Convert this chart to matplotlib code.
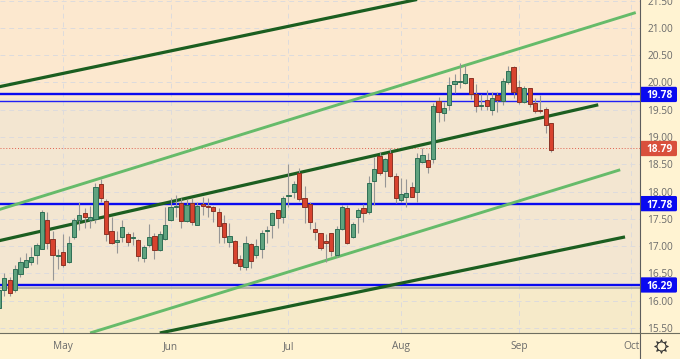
import matplotlib
matplotlib.use('Agg')
import matplotlib.pyplot as plt
from matplotlib.lines import Line2D
from matplotlib.patches import FancyBboxPatch

plt.rcParams['font.family'] = ['Open Sans', 'DejaVu Sans']

# daily candles
opens = [15.87,16.20,16.38,16.20,16.49,16.62,16.71,16.84,16.95,17.48,17.13,16.82,16.89,16.71,17.17,17.48,17.61,17.48,17.50,18.14,
         17.83,17.28,17.08,17.17,17.22,17.15,17.11,16.78,17.02,17.19,16.93,17.13,17.48,17.72,17.79,17.46,17.79,17.39,17.77,17.74,
         17.72,17.63,17.43,17.08,17.10,16.77,16.62,17.04,16.84,16.95,17.28,17.39,17.66,17.54,17.92,17.99,18.34,17.88,17.77,17.32,
         17.24,17.10,17.24,16.84,17.32,17.70,17.17,17.54,17.70,17.63,18.19,18.65,18.38,18.71,18.29,17.85,17.90,18.09,17.99,18.54,
         18.58,18.60,19.66,19.44,19.59,19.97,20.01,19.99,20.08,19.79,19.57,19.68,19.50,19.77,19.66,20.01,20.28,19.92,19.64,19.90,
         19.62,19.50,19.51,19.26]
highs = [16.29,16.51,16.44,16.66,16.80,16.88,16.99,17.06,17.66,17.63,17.28,16.95,17.22,17.19,17.52,17.81,17.70,17.74,18.16,18.23,
         17.87,17.54,17.28,17.48,17.26,17.26,17.13,17.02,17.41,17.24,17.28,17.72,17.88,17.94,17.88,17.87,17.88,17.81,17.90,17.88,
         17.74,17.70,17.57,17.43,17.11,16.84,17.19,17.06,17.13,17.30,17.37,17.63,17.66,17.92,18.51,18.20,18.43,18.10,17.81,17.44,
         17.24,17.22,17.24,17.37,17.76,17.76,17.44,17.70,17.77,18.29,18.63,18.73,18.62,18.80,18.34,18.25,18.23,18.18,18.71,18.80,
         18.71,19.62,19.73,19.64,20.10,20.15,20.36,20.32,20.08,19.97,19.79,19.86,19.82,19.82,20.08,20.30,20.30,20.04,19.93,19.90,
         19.72,19.77,19.55,19.26]
lows = [15.74,16.09,16.09,16.16,16.44,16.60,16.66,16.68,16.95,16.95,16.38,16.58,16.62,16.69,17.13,17.30,17.33,17.33,17.43,17.81,
        17.10,17.04,16.88,17.08,17.00,17.02,16.73,16.71,16.99,16.77,16.91,17.11,17.46,17.54,17.33,17.44,17.39,17.39,17.57,17.54,
        17.44,17.06,17.06,16.99,16.68,16.57,16.57,16.60,16.78,16.78,17.06,17.15,17.33,17.43,17.72,17.88,17.83,17.43,17.32,17.11,
        16.93,16.71,16.82,16.80,17.30,17.04,17.15,17.24,17.44,17.59,17.76,18.30,18.09,18.27,17.79,17.81,17.72,17.90,17.81,18.52,
        18.34,18.52,19.28,19.29,19.50,19.81,19.90,19.97,19.70,19.46,19.50,19.50,19.40,19.46,19.59,19.97,19.72,19.61,19.62,19.55,
        19.44,19.44,19.07,18.73]
closes = [16.20,16.42,16.14,16.58,16.71,16.75,16.80,17.02,17.63,17.06,16.84,16.84,16.66,17.06,17.48,17.57,17.54,17.54,18.09,17.88,
          17.22,17.06,17.11,17.35,17.08,17.17,16.82,16.99,17.17,16.93,17.22,17.39,17.72,17.74,17.46,17.75,17.44,17.74,17.74,17.72,
          17.65,17.37,17.17,17.19,16.69,16.64,17.06,16.73,17.00,17.24,17.30,17.61,17.52,17.88,17.94,18.14,17.87,17.72,17.44,17.26,
          16.97,17.06,16.91,17.32,17.72,17.06,17.41,17.66,17.61,18.16,18.41,18.34,18.60,18.29,17.88,17.96,17.98,17.90,18.62,18.67,
          18.45,19.57,19.46,19.53,19.95,20.03,20.03,20.15,19.79,19.57,19.59,19.57,19.72,19.68,20.03,20.21,19.82,19.64,19.90,19.61,
          19.48,19.48,19.22,18.76]

last_price = 18.79
level_prices = [19.78, 17.78, 16.29]
thin_level = 19.66
grey_level = 16.24

# trend lines as (bar, price) end points
dark_lines = [([0, 78], [19.92, 21.52]),
              ([0, 111.8], [17.10, 19.59]),
              ([30, 116.8], [15.41, 17.17])]
light_lines = [([0, 118.8], [17.67, 21.28]),
               ([17, 115.9], [15.41, 18.40])]

month_bars = [12, 32, 54, 75, 97, 118]
month_labels = ['May', 'Jun', 'Jul', 'Aug', 'Sep', 'Oct']
price_ticks = [15.5, 16, 16.5, 17, 17.5, 18, 18.5, 19, 19.5, 20, 20.5, 21, 21.5]

W, H = 680, 359
axis_bg = '#FFF3D2'
up_fill, up_edge = '#5FA37F', '#2F6F55'
down_fill, down_edge = '#D8432F', '#8B3325'
blue = '#0A0AF0'
tick_col = '#6A6A6A'

fig = plt.figure(figsize=(W / 100, H / 100), dpi=100, facecolor=axis_bg)
ax = fig.add_axes([0, 26 / H, 639.5 / W, 333 / H])
ax.set_xlim(0.19, 119.5)
ax.set_ylim(15.41, 21.51)
ax.set_facecolor('#F3E6D1')

# background zones
ax.axhspan(19.72, 21.51, color='#FCE8CF', lw=0, zorder=0)
ax.axhspan(15.41, grey_level, color='#F6EAC9', lw=0, zorder=0)

ax.set_xticks(month_bars, month_labels)
ax.set_yticks(price_ticks, ['%.2f' % p for p in price_ticks])
ax.yaxis.tick_right()
ax.tick_params(axis='both', length=0, labelsize=7.3, labelcolor=tick_col)
ax.tick_params(axis='y', pad=5.5)
ax.tick_params(axis='x', pad=5.5)
ax.grid(True, color='#DDDBDD', lw=0.7, ls=(0, (5, 4)), zorder=1)
ax.set_axisbelow(True)
for s in ax.spines.values():
    s.set_visible(False)

# levels and channels sit behind the candles
ax.axhline(grey_level, color='#A8A8A0', lw=1.2, zorder=2)
for p in level_prices:
    ax.axhline(p, color=blue, lw=1.7, zorder=3)
ax.axhline(thin_level, color='#2020F5', lw=1.0, zorder=3)
ax.axhline(last_price, color='#E0604D', lw=0.7, ls=(0, (1, 2)), zorder=3)
for xs, ys in light_lines:
    ax.plot(xs, ys, color='#66BB6A', lw=2.1, zorder=3, solid_capstyle='butt')
for xs, ys in dark_lines:
    ax.plot(xs, ys, color='#1B5E20', lw=2.3, zorder=3, solid_capstyle='butt')

bars = list(range(len(opens)))
ax.vlines(bars, lows, highs, color='#969696', lw=0.8, zorder=4)
for i in bars:
    is_up = closes[i] >= opens[i]
    ax.bar(i, closes[i] - opens[i], bottom=opens[i], width=0.78,
           color=up_fill if is_up else down_fill,
           edgecolor=up_edge if is_up else down_edge, lw=0.7, zorder=5)

# price labels on the right hand scale
side = fig.add_axes([640 / W, 26 / H, 40 / W, 333 / H])
side.set_xlim(640, 680)
side.set_ylim(ax.get_ylim())
side.axis('off')
labels = [(p, blue) for p in level_prices] + [(last_price, '#D9503C')]
for p, col in labels:
    box = FancyBboxPatch((640, p - 0.14), 37, 0.28, boxstyle='round,pad=0,rounding_size=1.5',
                         mutation_aspect=1 / 54.6, fc=col, ec='none', clip_on=False)
    side.add_patch(box)
    side.text(660, p, '%.2f' % p, color='white', fontsize=7.3, fontweight='bold',
              ha='center', va='center_baseline')

# frame of the scales
fig.add_artist(Line2D([639.5 / W] * 2, [0, 1], color='#5C5C5C', lw=0.8))
fig.add_artist(Line2D([0, 1], [26 / H] * 2, color='#6E6E60', lw=0.8))

# settings gear
gx, gy = 661 / W, 13 / H
fig.add_artist(Line2D([gx], [gy], marker=(8, 1, 0), ms=10, mfc=axis_bg, mec='#333333', mew=0.7, ls='none'))
fig.add_artist(Line2D([gx], [gy], marker='o', ms=6.5, mfc=axis_bg, mec='#333333', mew=0.7, ls='none'))

fig.savefig('out.png', dpi=100, facecolor=fig.get_facecolor())
